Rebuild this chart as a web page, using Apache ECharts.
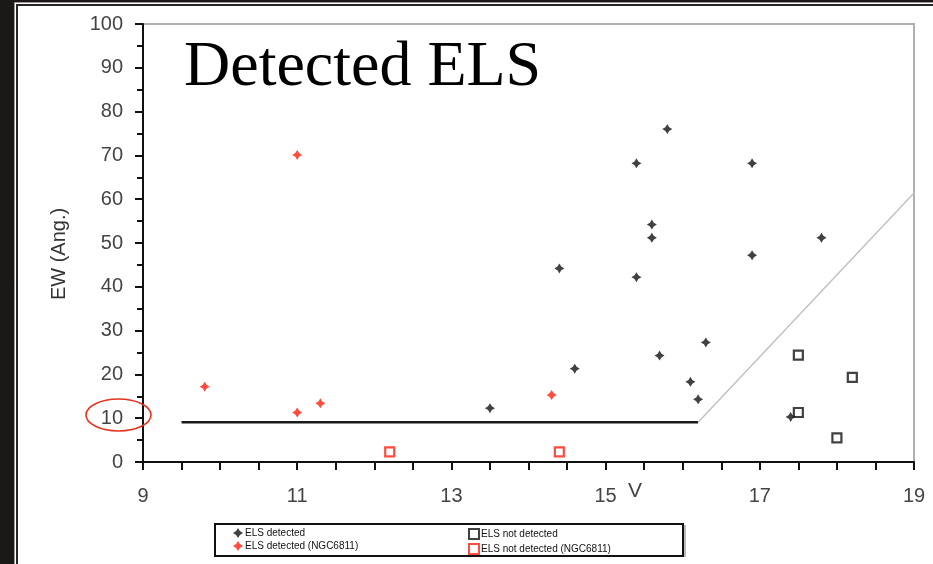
<!DOCTYPE html>
<html>
<head>
<meta charset="utf-8">
<title>Detected ELS</title>
<script src="https://cdn.jsdelivr.net/npm/echarts@6/dist/echarts.min.js"></script>
<style>
  html, body { margin: 0; padding: 0; background: #1b1815; }
  #chart { width: 933px; height: 564px; }
</style>
</head>
<body>
<div id="chart"></div>
<script>
// V magnitude vs. equivalent width (Angstrom)
const elsDetected = [
  [13.5, 12.3], [14.4, 44.2], [14.6, 21.3], [15.4, 68.2], [15.4, 42.2],
  [15.6, 54.2], [15.6, 51.2], [15.8, 76.0], [15.7, 24.3], [16.1, 18.3],
  [16.2, 14.3], [16.3, 27.3], [16.9, 68.2], [16.9, 47.2], [17.8, 51.2],
  [17.4, 10.3]
];
const elsNotDetected = [
  [17.5, 24.4], [18.2, 19.3], [17.5, 11.3], [18.0, 5.5]
];
const elsDetectedNGC = [
  [9.8, 17.2], [11.0, 70.1], [11.0, 11.3], [11.3, 13.4], [14.3, 15.3]
];
const elsNotDetectedNGC = [
  [12.2, 2.3], [14.4, 2.3]
];
// detection limit: flat part and rising part
const limitFlat = [[9.5, 9.1], [16.2, 9.1]];
const limitSlope = [[16.2, 9.1], [19.0, 61.4]];

const xLabelValues = [9, 11, 13, 15, 17, 19];

const starPath = 'path://M0,-10 L3.8,-3.8 L10,0 L3.8,3.8 L0,10 L-3.8,3.8 L-10,0 L-3.8,-3.8 Z';

const chart = echarts.init(document.getElementById('chart'), null, { renderer: 'canvas' });

const option = {
  backgroundColor: '#1b1815',
  animation: false,
  title: {
    text: 'Detected ELS',
    left: 184,
    top: 36,
    padding: 0,
    textStyle: {
      fontFamily: 'Liberation Serif',
      fontSize: 64,
      fontWeight: 'normal',
      color: '#000'
    },
    z: 10
  },
  graphic: [
    {
      type: 'rect', z: -10, silent: true,
      shape: { x: 14.5, y: 2.5, width: 940, height: 580 },
      style: { fill: '#ffffff', stroke: '#9a9a9a', lineWidth: 1 }
    },
    {
      type: 'rect', z: -9, silent: true,
      shape: { x: 17, y: 5, width: 940, height: 580 },
      style: { fill: '#ffffff', stroke: '#262626', lineWidth: 2 }
    },
    {
      type: 'rect', z: 1, silent: true,
      shape: { x: 215, y: 524, width: 468, height: 32 },
      style: { fill: '#ffffff', stroke: '#111', lineWidth: 2 }
    },
    {
      type: 'line', z: 1, silent: true,
      shape: { x1: 685, y1: 525, x2: 685, y2: 557 },
      style: { stroke: '#bbbbbb', lineWidth: 2 }
    },
    {
      type: 'ellipse', z: 20, silent: true,
      shape: { cx: 118.5, cy: 415, rx: 32.5, ry: 16 },
      style: { fill: 'none', stroke: '#e4331f', lineWidth: 1.6 }
    }
  ],
  grid: {
    left: 143,
    right: 19,
    top: 24,
    bottom: 102,
    show: true,
    backgroundColor: '#ffffff',
    borderColor: '#b0b0b0',
    borderWidth: 2
  },
  xAxis: {
    type: 'value',
    min: 9,
    max: 19,
    interval: 0.5,
    name: 'V',
    nameLocation: 'middle',
    nameGap: 19,
    nameMoveOverlap: false,
    nameTextStyle: {
      fontFamily: 'Liberation Sans',
      fontSize: 21,
      color: '#444',
      padding: [0, 0, 0, 213]
    },
    axisLine: { onZero: false, lineStyle: { color: '#111', width: 2 } },
    axisTick: { show: true, length: 8, lineStyle: { color: '#111', width: 2 } },
    axisLabel: {
      margin: 24,
      fontFamily: 'Liberation Sans',
      fontSize: 20,
      color: '#444',
      formatter: function (v) {
        return xLabelValues.indexOf(Math.round(v * 10) / 10) >= 0 ? String(v) : '';
      }
    },
    splitLine: { show: false }
  },
  yAxis: {
    type: 'value',
    min: 0,
    max: 100,
    interval: 10,
    name: 'EW (Ang.)',
    nameLocation: 'middle',
    nameGap: 74,
    nameMoveOverlap: false,
    nameTextStyle: {
      fontFamily: 'Liberation Sans',
      fontSize: 20,
      color: '#333',
      padding: [0, 22, 0, 0]
    },
    axisLine: { lineStyle: { color: '#111', width: 2 } },
    axisTick: { show: true, length: 8, lineStyle: { color: '#111', width: 2 } },
    minorTick: { show: true, splitNumber: 2, length: 6, lineStyle: { color: '#111', width: 2 } },
    axisLabel: {
      margin: 20,
      fontFamily: 'Liberation Sans',
      fontSize: 20,
      color: '#444'
    },
    splitLine: { show: false },
    minorSplitLine: { show: false }
  },
  legend: [
    {
      data: ['ELS detected', 'ELS detected (NGC6811)'],
      orient: 'vertical',
      left: 233,
      top: 528,
      itemGap: 3,
      itemWidth: 10,
      itemHeight: 10,
      padding: 0,
      textStyle: { fontFamily: 'Liberation Sans', fontSize: 10, color: '#111', padding: [0, 0, 0, -3] }
    },
    {
      data: ['ELS not detected', 'ELS not detected (NGC6811)'],
      orient: 'vertical',
      left: 468,
      top: 528,
      itemGap: 3,
      itemWidth: 10,
      itemHeight: 10,
      padding: 0,
      textStyle: { fontFamily: 'Liberation Sans', fontSize: 10, color: '#111', padding: [0, 0, 0, -3] }
    }
  ],
  series: [
    {
      name: 'limit-flat',
      type: 'line',
      data: limitFlat,
      symbol: 'none',
      silent: true,
      lineStyle: { color: '#1a1a1a', width: 2.5 },
      z: 2
    },
    {
      name: 'limit-slope',
      type: 'line',
      data: limitSlope,
      symbol: 'none',
      silent: true,
      lineStyle: { color: '#c2c2c2', width: 1.5 },
      z: 2
    },
    {
      name: 'ELS detected',
      type: 'scatter',
      data: elsDetected,
      symbol: starPath,
      symbolSize: 10,
      itemStyle: { color: '#111' },
      z: 4
    },
    {
      name: 'ELS not detected',
      type: 'scatter',
      data: elsNotDetected,
      symbol: 'rect',
      symbolSize: 9,
      itemStyle: { color: '#ffffff', borderColor: '#111', borderWidth: 2.2 },
      z: 3
    },
    {
      name: 'ELS detected (NGC6811)',
      type: 'scatter',
      data: elsDetectedNGC,
      symbol: starPath,
      symbolSize: 10,
      itemStyle: { color: '#ff1e10' },
      z: 4
    },
    {
      name: 'ELS not detected (NGC6811)',
      type: 'scatter',
      data: elsNotDetectedNGC,
      symbol: 'rect',
      symbolSize: 9,
      itemStyle: { color: '#ffffff', borderColor: '#ff1e10', borderWidth: 2.2 },
      z: 3
    }
  ]
};

chart.setOption(option);
</script>
</body>
</html>
